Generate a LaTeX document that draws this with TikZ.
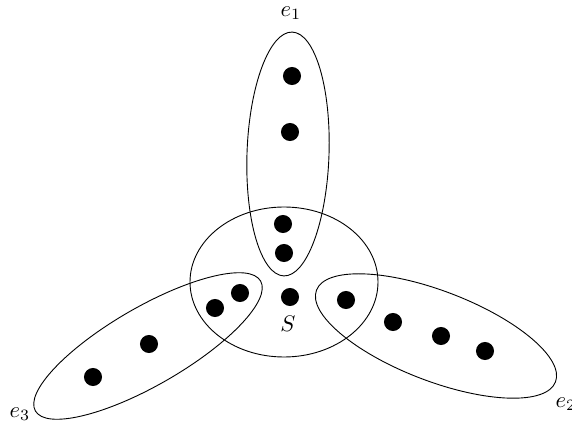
\documentclass[tikz,border=0pt]{standalone}
\usepackage{amsmath,amssymb}
\usepackage{tikz}

\begin{document}
\begin{tikzpicture}[x=0.444pt, y=-0.444pt, vtx/.style={circle, fill, inner sep=0pt, minimum size=8pt}]
\useasboundingbox (0,0) rectangle (572,428);
% the set S and the three edges
\draw (284,282) ellipse (94 and 75);
\draw[rotate around={-2:(288,154)}] (288,154) ellipse (41 and 122);
\draw[rotate around={-21:(436,336)}] (436,336) ellipse (128 and 45);
\draw[rotate around={30:(148,346)}] (148,346) ellipse (130 and 39);

% vertices
\node[vtx] (a1) at (292,76) {};
\node[vtx] (a2) at (290,132) {};
\node[vtx] (a3) at (283,224) {};
\node[vtx] (a4) at (284,253) {};
\node[vtx] (c) at (290,297) {};
\node[vtx] (b1) at (346,300) {};
\node[vtx] (b2) at (393,322) {};
\node[vtx] (b3) at (441,336) {};
\node[vtx] (b4) at (485,351) {};
\node[vtx] (d1) at (240,293) {};
\node[vtx] (d2) at (215,308) {};
\node[vtx] (d3) at (149,344) {};
\node[vtx] (d4) at (93,377) {};

% labels
\node (S) at (288,324) {$S$};
\node (e1) at (291,13) {$e_1$};
\node (e2) at (566,404) {$e_2$};
\node (e3) at (20,414) {$e_3$};
\end{tikzpicture}
\end{document}
